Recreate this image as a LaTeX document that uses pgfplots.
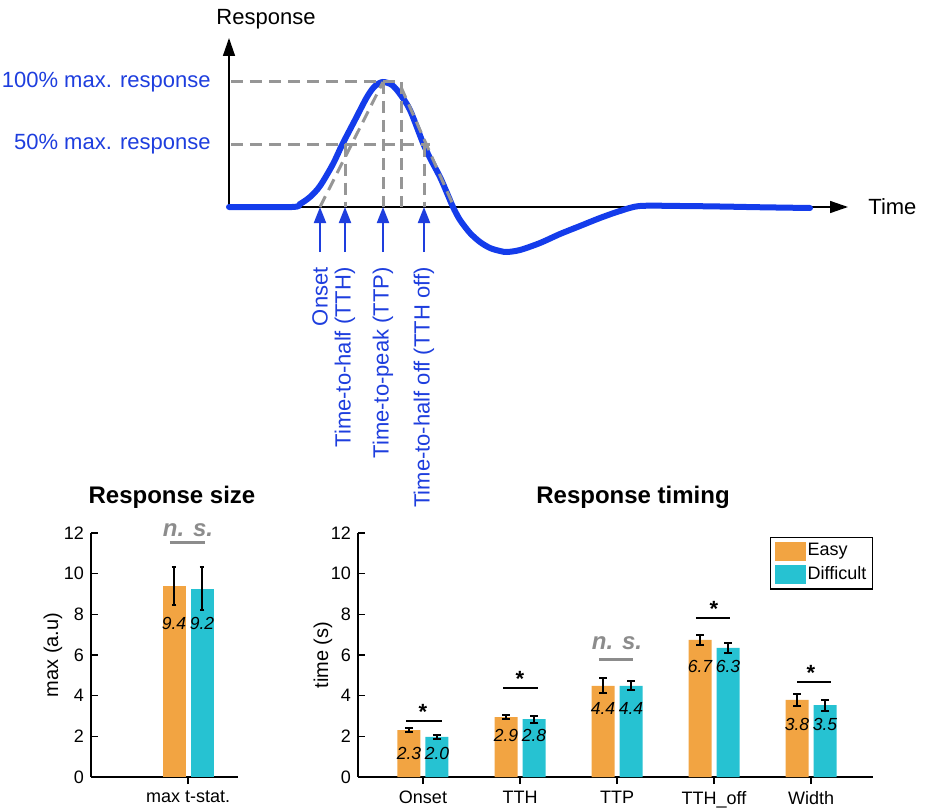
\documentclass[border=0pt]{standalone}
\usepackage{pgfplots}
\pgfplotsset{compat=1.18}
\usepackage{fontspec}
\setmainfont{Liberation Sans}
\usetikzlibrary{arrows.meta}
\definecolor{easyc}{RGB}{242,164,66}
\definecolor{diffc}{RGB}{38,194,210}
\definecolor{curveblue}{RGB}{20,60,235}
\definecolor{textblue}{RGB}{30,62,222}
\definecolor{dashgray}{RGB}{150,150,150}
\definecolor{nsgray}{RGB}{140,140,140}
\begin{document}
\begin{tikzpicture}
\useasboundingbox (0,0) rectangle (463pt,405pt);
% ---------------- top schematic ----------------
\begin{axis}[
  at={(114.5pt,275pt)}, anchor=south west,
  scale only axis, width=310.5pt, height=111pt,
  xmin=229, xmax=850, ymin=-0.424, ymax=1.352,
  axis lines=none, clip=false,
  font=\fontsize{11pt}{13pt}\selectfont]
% axes with arrows
\draw[line width=0.75pt, -{Triangle[length=9pt,width=6pt]}] (axis cs:229,0) -- (axis cs:848,0);
\draw[line width=0.75pt, -{Triangle[length=9pt,width=6pt]}] (axis cs:229,0) -- (axis cs:229,1.352);
% response curve
\addplot[curveblue, line width=3pt, line cap=round, smooth, tension=0.5] coordinates {
(229,0) (292,0) (300,0.024) (310,0.08) (320,0.168) (333,0.344) (342,0.496)
(355,0.696) (367,0.88) (375,0.968) (383,1.0) (392,0.976) (400,0.904)
(410,0.776) (423,0.512) (430,0.392) (440,0.24) (447,0.112) (453,0)
(460,-0.104) (470,-0.208) (480,-0.28) (490,-0.328) (500,-0.352) (507,-0.36)
(520,-0.344) (540,-0.288) (560,-0.216) (580,-0.152) (600,-0.088) (620,-0.032)
(640,0.008) (680,0.008) (720,0.004) (760,-0.002) (810,-0.008)};
% dashed guides
\addplot[dashgray, line width=1.5pt, dash pattern=on 6pt off 3.5pt] coordinates {(231,1.0) (400,1.0)};
\addplot[dashgray, line width=1.5pt, dash pattern=on 6pt off 3.5pt] coordinates {(231,0.5) (430,0.5)};
\addplot[dashgray, line width=1.5pt, dash pattern=on 6pt off 3.5pt] coordinates {(345,0.5) (345,0)};
\addplot[dashgray, line width=1.5pt, dash pattern=on 6pt off 3.5pt] coordinates {(383,1.0) (383,0)};
\addplot[dashgray, line width=1.5pt, dash pattern=on 6pt off 3.5pt] coordinates {(401,1.0) (401,0)};
\addplot[dashgray, line width=1.5pt, dash pattern=on 6pt off 3.5pt] coordinates {(424,0.5) (424,0)};
\addplot[dashgray, line width=1.5pt, dash pattern=on 6pt off 3.5pt] coordinates {(320,0) (383,1.0)};
\addplot[dashgray, line width=1.5pt, dash pattern=on 6pt off 3.5pt] coordinates {(401,0.96) (454,0)};
% arrows
\foreach \xx in {320,345,383,424}{
  \edef\temp{\noexpand\draw[textblue, line width=1pt, -{Triangle[length=8pt,width=6pt]}] (axis cs:\xx,-0.36) -- (axis cs:\xx,0);}
  \temp
}
% labels
\node[anchor=east, text=textblue, inner sep=0pt] at (axis cs:211,1.0) {100\% max. response};
\node[anchor=east, text=textblue, inner sep=0pt] at (axis cs:211,0.5) {50\% max. response};
\node[anchor=center, inner sep=0pt] at (axis cs:266,1.5) {Response};
\node[anchor=west, inner sep=0pt] at (axis cs:868,0) {Time};
\node[rotate=90, anchor=east, text=textblue, inner sep=0pt] at (axis cs:320,-0.48) {Onset};
\node[rotate=90, anchor=east, text=textblue, inner sep=0pt] at (axis cs:345,-0.48) {Time-to-half (TTH)};
\node[rotate=90, anchor=east, text=textblue, inner sep=0pt] at (axis cs:383,-0.48) {Time-to-peak (TTP)};
\node[rotate=90, anchor=east, text=textblue, inner sep=0pt] at (axis cs:424,-0.48) {Time-to-half off (TTH off)};
\end{axis}
% ---------------- common bar style ----------------
\pgfplotsset{
  barax/.style={
    scale only axis, height=122pt, ymin=0, ymax=12, ytick={0,2,...,12},
    axis lines=left, axis line style={-, line width=0.75pt},
    tick align=inside, major tick length=3.5pt, tick style={black, line width=0.75pt},
    minor tick num=0, clip=false,
    ybar=2.5pt, bar width=11.5pt,
    /pgf/number format/assume math mode=true,
    tick label style={font=\fontsize{9pt}{10.5pt}\selectfont},
    label style={font=\fontsize{9pt}{10.5pt}\selectfont},
  },
  barplot/.style={draw=none,
      error bars/y dir=both, error bars/y explicit,
      error bars/error bar style={black, line width=1pt},
      error bars/error mark options={rotate=90, black, line width=1pt, mark size=#1}},
}
% ---------------- bottom left ----------------
\begin{axis}[barax,
  at={(45.5pt,16.5pt)}, anchor=south west, width=73.5pt,
  xmin=0, xmax=1.515, xtick={1}, xticklabels={max t-stat.},
  ylabel={max (a.u)},
  every axis y label/.style={at={(axis description cs:-0.2585,0.5)}, rotate=90, anchor=center}]
\addplot[barplot=1.2pt, fill=easyc]
  coordinates {(1,9.4) +- (0,0.93)};
\addplot[barplot=1.2pt, fill=diffc]
  coordinates {(1,9.25) +- (0,1.06)};
\node[font=\fontsize{8.75pt}{10.5pt}\selectfont\itshape, xshift=-7pt] at (axis cs:1,7.57) {9.4};
\node[font=\fontsize{8.75pt}{10.5pt}\selectfont\itshape, xshift=7pt] at (axis cs:1,7.57) {9.2};
\draw[nsgray, line width=1.5pt] (axis cs:0.814,11.51) -- (axis cs:1.175,11.51);
\node[text=nsgray, font=\fontsize{12pt}{14pt}\selectfont\bfseries\itshape] at (axis cs:1,12.15) {n. s.};
\end{axis}
\node[font=\fontsize{12pt}{14pt}\selectfont\bfseries] at (86pt,156.5pt) {Response size};
% ---------------- bottom right ----------------
\begin{axis}[barax,
  at={(179pt,16.5pt)}, anchor=south west, width=257.5pt,
  xmin=0.33, xmax=5.639, xtick={1,2,3,4,5},
  xticklabels={Onset,TTH,TTP,TTH\_off,Width},
  ylabel={time (s)},
  every axis y label/.style={at={(axis description cs:-0.068,0.5)}, rotate=90, anchor=center},
  legend cell align=left,
  legend style={at={(axis description cs:1.0,0.984)}, anchor=north east,
    draw=black, line width=0.6pt, font=\fontsize{9pt}{10.5pt}\selectfont,
    inner xsep=2pt, inner ysep=1.5pt, row sep=1pt,
    nodes={inner xsep=1pt, inner ysep=1.5pt}},
  legend image code/.code={\fill[#1] (0pt,-4.75pt) rectangle (15.5pt,4.75pt);}]
\addplot[barplot=2pt, fill=easyc]
  coordinates {(1,2.31) +- (0,0.1) (2,2.95) +- (0,0.1) (3,4.48) +- (0,0.37) (4,6.74) +- (0,0.25) (5,3.79) +- (0,0.3)};
\addplot[barplot=2pt, fill=diffc]
  coordinates {(1,1.97) +- (0,0.1) (2,2.85) +- (0,0.17) (3,4.48) +- (0,0.22) (4,6.35) +- (0,0.25) (5,3.54) +- (0,0.27)};
\legend{Easy,Difficult}
% value labels
\foreach \cx/\yy/\la/\lb in {1/1.18/2.3/2.0, 2/2.02/2.9/2.8, 3/3.39/4.4/4.4, 4/5.46/6.7/6.3, 5/2.56/3.8/3.5}{
  \edef\temp{\noexpand\node[font=\noexpand\fontsize{8.75pt}{10.5pt}\noexpand\selectfont\noexpand\itshape, xshift=-7pt] at (axis cs:\cx,\yy) {\la};
    \noexpand\node[font=\noexpand\fontsize{8.75pt}{10.5pt}\noexpand\selectfont\noexpand\itshape, xshift=7pt] at (axis cs:\cx,\yy) {\lb};}
  \temp
}
% significance
\draw[black, line width=1.2pt] (axis cs:0.825,2.75) -- (axis cs:1.196,2.75);
\node[anchor=south, inner sep=0.5pt, font=\fontsize{11pt}{13pt}\selectfont\bfseries] at (axis cs:1,2.75) {*};
\draw[black, line width=1.2pt] (axis cs:1.825,4.38) -- (axis cs:2.186,4.38);
\node[anchor=south, inner sep=0.5pt, font=\fontsize{11pt}{13pt}\selectfont\bfseries] at (axis cs:2,4.38) {*};
\draw[black, line width=1.2pt] (axis cs:3.814,7.82) -- (axis cs:4.165,7.82);
\node[anchor=south, inner sep=0.5pt, font=\fontsize{11pt}{13pt}\selectfont\bfseries] at (axis cs:4,7.82) {*};
\draw[black, line width=1.2pt] (axis cs:4.856,4.67) -- (axis cs:5.206,4.67);
\node[anchor=south, inner sep=0.5pt, font=\fontsize{11pt}{13pt}\selectfont\bfseries] at (axis cs:5,4.67) {*};
\draw[nsgray, line width=1.5pt] (axis cs:2.814,5.8) -- (axis cs:3.165,5.8);
\node[text=nsgray, font=\fontsize{12pt}{14pt}\selectfont\bfseries\itshape] at (axis cs:3,6.59) {n. s.};
\end{axis}
\node[font=\fontsize{12pt}{14pt}\selectfont\bfseries] at (316.5pt,156.5pt) {Response timing};
\end{tikzpicture}
\end{document}
